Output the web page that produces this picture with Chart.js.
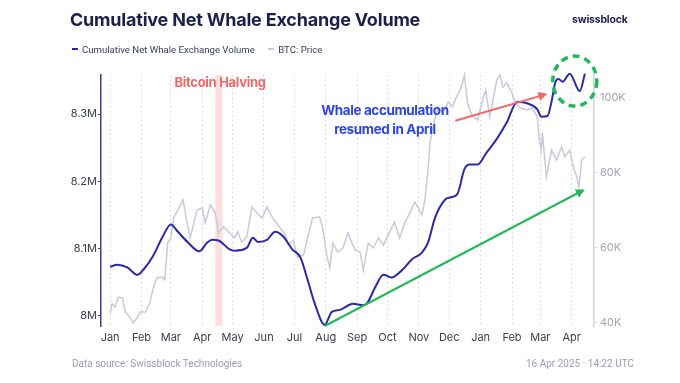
<!DOCTYPE html>
<html>
<head>
<meta charset="utf-8">
<script src="https://cdn.jsdelivr.net/npm/chart.js@4.4.1/dist/chart.umd.min.js"></script>
<style>
  html, body { margin: 0; padding: 0; background: #ffffff; }
  body { width: 680px; height: 383px; position: relative; overflow: hidden; font-family: Inter, "Noto Sans", sans-serif; }
  #wrap { position: absolute; left: 0; top: 0; width: 680px; height: 383px; }
  .title { position: absolute; left: 70px; top: 9px; font-size: 18px; font-weight: 700; color: #1b1f4b; letter-spacing: -0.2px; white-space: nowrap; }
  .logo { position: absolute; left: 572px; top: 13px; font-size: 10.5px; font-weight: 700; color: #1b1f4b; letter-spacing: -0.2px; }
  .legend { position: absolute; left: 72px; top: 41px; font-family: Roboto, Inter, sans-serif; font-size: 9.6px; color: #3a3d5c; white-space: nowrap; }
  .legend span.item { display: inline-flex; align-items: center; margin-right: 11px; }
  .legend i { display: inline-block; width: 6px; height: 2px; margin-right: 4px; }
  .foot { position: absolute; top: 358px; font-family: Roboto, Inter, sans-serif; font-size: 10px; color: #9a9caf; white-space: nowrap; }
</style>
</head>
<body>
<div id="wrap"><canvas id="c" width="680" height="383"></canvas></div>
<div class="title">Cumulative Net Whale Exchange Volume</div>
<div class="logo">swissblock</div>
<div class="legend">
  <span class="item"><i style="background:#2a2aa8"></i>Cumulative Net Whale Exchange Volume</span>
  <span class="item"><i style="background:#c9c9d9"></i>BTC: Price</span>
</div>
<div class="foot" style="left:72px">Data source: Swissblock Technologies</div>
<div class="foot" style="right:46px">16 Apr 2025 · 14:22 UTC</div>
<script>
// ---- data (days since 2024-01-01) ----
const monthTickDays = [0,31,60,91,121,152,182,213,244,274,305,335,366,397,425,456];
const monthTickLabels = ['Jan','Feb','Mar','Apr','May','Jun','Jul','Aug','Sep','Oct','Nov','Dec','Jan','Feb','Mar','Apr'];

// Cumulative net whale exchange volume (millions)
const whaleDays = [0,7,17,27,33,42,52,60,67,77,88,96,101,107,118,123,135,141,146,155,163,171,180,188,195,202,212,219,227,240,250,254,262,270,278,289,298,308,314,321,331,336,343,350,355,363,372,382,392,402,412,422,426,432,436,440,443,447,454,464,469];
const whaleValues = [8.073,8.076,8.072,8.061,8.069,8.088,8.118,8.136,8.125,8.109,8.096,8.109,8.113,8.112,8.099,8.097,8.101,8.116,8.110,8.113,8.125,8.118,8.099,8.087,8.054,8.019,7.987,8.006,8.009,8.018,8.016,8.019,8.043,8.061,8.057,8.069,8.084,8.094,8.109,8.146,8.173,8.176,8.181,8.218,8.225,8.225,8.243,8.263,8.288,8.318,8.316,8.307,8.296,8.297,8.318,8.348,8.352,8.348,8.360,8.334,8.360];

// BTC price (thousands USD)
const priceDays = [0,2,5,8,12,15,18,23,27,30,35,39,43,46,51,54,57,60,63,67,72,75,79,86,91,94,99,104,107,112,118,123,126,130,135,140,145,150,155,160,166,173,176,181,185,191,197,200,207,210,214,217,220,225,230,235,239,242,247,250,255,260,265,270,276,281,286,291,296,301,304,308,311,314,316,319,324,329,334,338,343,346,350,353,357,363,368,371,375,382,385,388,392,397,400,405,412,417,422,424,426,427,431,436,441,446,449,454,457,461,463,466,469];
const priceValues = [42.7,45.1,44.3,46.9,46.7,42.9,42.1,40.0,41.6,42.9,42.9,45.3,49.6,52.0,52.3,51.5,61.6,62.7,68.3,70.1,72.8,68.3,62.7,70.1,70.7,66.7,71.5,69.3,64.0,65.6,64.0,62.7,64.3,61.6,62.9,70.9,69.3,68.0,70.9,68.3,66.1,63.5,60.8,62.1,57.6,58.1,64.8,68.0,68.3,65.3,58.1,54.7,61.3,58.9,60.0,64.0,61.3,59.5,58.9,54.1,61.3,60.0,62.7,60.8,64.3,66.9,62.7,66.7,69.3,72.3,70.9,68.8,72.8,80.8,88.0,92.3,97.6,96.0,98.9,97.6,100.8,102.1,106.1,98.7,95.5,94.1,99.5,102.1,94.9,104.8,106.1,102.9,104.0,101.3,98.7,97.3,96.8,97.3,94.9,88.8,86.1,90.7,78.9,86.1,83.5,86.9,84.3,86.1,82.1,78.9,76.3,83.5,84.3];

// Annotation anchors in data units (day, whale value)
const halvingBand = [104, 111];
const halvingLabel = { text: 'Bitcoin Halving', day: 108.6, value: 8.346 };
const whaleNote = { lines: ['Whale accumulation', 'resumed in April'], day: 271.5, value: 8.3045 };
const redArrow = { from: [341, 8.290], to: [432, 8.330] };
const greenArrow = { from: [212, 7.985], to: [469, 8.188] };
const circleNote = { day: 459, value: 8.349 };

function pts(days, vals) { return days.map((d, i) => ({ x: d, y: vals[i] })); }

const annotate = {
  id: 'annotate',
  beforeDatasetsDraw(chart) {
    const { ctx, chartArea: a, scales: { x } } = chart;
    ctx.save();
    ctx.fillStyle = 'rgba(250, 205, 205, 0.65)';
    const x0 = x.getPixelForValue(halvingBand[0]), x1 = x.getPixelForValue(halvingBand[1]);
    ctx.fillRect(x0, a.top, x1 - x0, a.bottom - a.top);
    ctx.restore();
  },
  afterDatasetsDraw(chart) {
    const { ctx, scales: { x, y } } = chart;
    const P = (d, v) => [x.getPixelForValue(d), y.getPixelForValue(v)];
    function arrow(from, to, color) {
      const [ax, ay] = P(from[0], from[1]);
      const [bx, by] = P(to[0], to[1]);
      const ang = Math.atan2(by - ay, bx - ax);
      const L = 9, W = 4.5;
      ctx.save();
      ctx.strokeStyle = color; ctx.fillStyle = color; ctx.lineWidth = 2;
      ctx.beginPath(); ctx.moveTo(ax, ay);
      ctx.lineTo(bx - Math.cos(ang) * L * 0.8, by - Math.sin(ang) * L * 0.8); ctx.stroke();
      ctx.beginPath();
      ctx.moveTo(bx, by);
      ctx.lineTo(bx - Math.cos(ang) * L - Math.sin(ang) * W, by - Math.sin(ang) * L + Math.cos(ang) * W);
      ctx.lineTo(bx - Math.cos(ang) * L + Math.sin(ang) * W, by - Math.sin(ang) * L - Math.cos(ang) * W);
      ctx.closePath(); ctx.fill();
      ctx.restore();
    }
    arrow(greenArrow.from, greenArrow.to, '#22b85a');
    arrow(redArrow.from, redArrow.to, '#f06767');
    const [cx, cy] = P(circleNote.day, circleNote.value);
    ctx.save();
    ctx.strokeStyle = '#22b85a'; ctx.lineWidth = 3.5; ctx.setLineDash([7, 5]);
    ctx.beginPath(); ctx.ellipse(cx, cy, 22, 25, 0, 0, Math.PI * 2); ctx.stroke();
    ctx.restore();
    ctx.save();
    ctx.textAlign = 'center'; ctx.textBaseline = 'middle';
    ctx.font = 'bold 13px Inter, "Noto Sans", sans-serif';
    ctx.letterSpacing = '-0.3px';
    ctx.fillStyle = '#f06767';
    const [hx, hy] = P(halvingLabel.day, halvingLabel.value);
    ctx.fillText(halvingLabel.text, hx, hy);
    ctx.font = 'bold 13.5px Inter, "Noto Sans", sans-serif';
    ctx.letterSpacing = '-0.4px';
    ctx.fillStyle = '#2b45e6';
    const [wx, wy] = P(whaleNote.day, whaleNote.value);
    whaleNote.lines.forEach((t, i) => ctx.fillText(t, wx, wy + i * 19));
    ctx.restore();
  }
};

new Chart(document.getElementById('c'), {
  type: 'line',
  data: {
    datasets: [
      { label: 'Cumulative Net Whale Exchange Volume', data: pts(whaleDays, whaleValues), yAxisID: 'y',
        borderColor: '#2a2aa8', borderWidth: 2, pointRadius: 0, cubicInterpolationMode: 'monotone', fill: false, clip: 6 },
      { label: 'BTC: Price', data: pts(priceDays, priceValues), yAxisID: 'y1',
        borderColor: '#c9c9d9', borderWidth: 1.5, pointRadius: 0, tension: 0, fill: false, clip: 6 }
    ]
  },
  options: {
    responsive: false, animation: false, devicePixelRatio: 1,
    layout: { padding: { top: 75, left: 0, right: 0, bottom: 0 } },
    plugins: { legend: { display: false }, tooltip: { enabled: false }, title: { display: false } },
    scales: {
      x: {
        type: 'linear', min: -9, max: 478,
        afterBuildTicks: s => { s.ticks = monthTickDays.map(v => ({ value: v })); },
        afterFit: s => { s.height = 57; },
        ticks: { autoSkip: false, maxRotation: 0, padding: 5, color: '#3a3d4f', font: { size: 11, family: 'Inter' },
                 callback: (v, i) => monthTickLabels[i] },
        grid: { display: true, drawTicks: false, color: 'rgba(200,200,214,0.8)', lineWidth: 1 },
        border: { display: false, dash: [1.5, 3] }
      },
      y: {
        position: 'left', min: 7.985, max: 8.358,
        afterBuildTicks: s => { s.ticks = [8.0, 8.1, 8.2, 8.3].map(v => ({ value: v })); },
        afterFit: s => { s.width = 101; },
        ticks: { padding: 1, color: '#3a3d4f', font: { size: 11, family: 'Inter' },
                 callback: v => (v === 8 ? '8' : v.toFixed(1)) + 'M' },
        grid: { drawOnChartArea: false, drawTicks: true, tickLength: 3, color: '#3b3f8c' },
        border: { display: true, color: '#3b3f8c', width: 1.5 }
      },
      y1: {
        position: 'right', min: 39.2, max: 106.1,
        afterBuildTicks: s => { s.ticks = [40, 60, 80, 100].map(v => ({ value: v })); },
        afterFit: s => { s.width = 86; },
        ticks: { padding: 3, color: '#a3a5b8', font: { size: 11, family: 'Inter' },
                 callback: v => v + 'K' },
        grid: { drawOnChartArea: false, drawTicks: true, tickLength: 3, color: '#d4d4de' },
        border: { display: true, color: '#d4d4de', width: 1.5 }
      }
    }
  },
  plugins: [annotate]
});
</script>
</body>
</html>
